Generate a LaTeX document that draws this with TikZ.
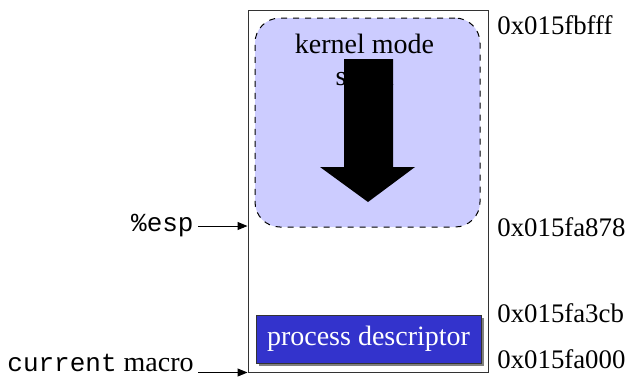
\documentclass[tikz,border=0pt]{standalone}
\usepackage{fontspec}
\setmainfont{Liberation Serif}
\setmonofont{Liberation Mono}
\usepackage{xcolor}
\usetikzlibrary{arrows.meta,positioning,calc,shadows}
\definecolor{cInk}{HTML}{000000}
\definecolor{cFrame}{HTML}{333333}
\definecolor{cStack}{HTML}{CCCCFF}
\definecolor{cDesc}{HTML}{3333CC}
\definecolor{cShade}{HTML}{808080}
\tikzset{
  framebox/.style={draw=cFrame,line width=0.5pt,minimum width=120pt,minimum height=181pt,inner sep=0pt},
  kstackbox/.style={draw=cInk,fill=cStack,dashed,line width=0.5pt,rounded corners=12.5pt,
    minimum width=112.5pt,minimum height=104.5pt,inner sep=0pt},
  descbox/.style={draw=cFrame,fill=cDesc,line width=0.5pt,minimum width=112.5pt,minimum height=24pt,
    inner sep=0pt,text=white,font=\fontsize{14}{16}\selectfont,
    drop shadow={shadow xshift=1.6pt,shadow yshift=-1.6pt,fill=cShade,opacity=1}},
  addr/.style={anchor=west,inner sep=0pt,font=\fontsize{13.4}{16}\selectfont},
  ptrlbl/.style={anchor=east,inner xsep=2pt,inner ysep=0pt,font=\fontsize{14}{16}\selectfont},
  ptr/.style={-{Triangle[length=5pt,width=4pt]},line width=0.5pt,color=cInk},
}
\begin{document}
\begin{tikzpicture}[x=0.5pt,y=-0.5pt]
  \useasboundingbox (0,0) rectangle (628,377);
  % 8 KB stack area and the kernel mode stack inside it
  \node[framebox] (stack) at (368,191) {};
  \node[kstackbox] (kstack) at (367.5,122.5) {};
  \node[align=center,inner sep=0pt,font=\fontsize{14}{16}\selectfont] (klabel) at (364.5,60) {kernel mode\\stack};
  % growth direction of the stack
  \fill[cInk] (344,59) -- (393,59) -- (393,167) -- (415,167) -- (368,202) -- (320,167) -- (344,167) -- cycle;
  \node[descbox] (desc) at (368.5,339) {process descriptor};
  % addresses
  \node[addr] (aTop) at (497,25) {0x015fbfff};
  \node[addr] (aEsp) at (497,227) {0x015fa878};
  \node[addr] (aDesc) at (497,313) {0x015fa3cb};
  \node[addr] (aBase) at (497,359) {0x015fa000};
  % pointers into the area
  \node[ptrlbl] (esp) at (198,226) {\fontsize{13}{15}\selectfont\ttfamily\%esp};
  \node[ptrlbl] (cur) at (198,363) {{\fontsize{13}{15}\selectfont\ttfamily current} macro};
  \draw[ptr] (esp.east) -- (esp.east -| stack.west);
  \draw[ptr] (cur.east |- stack.south west) -- (stack.south west);
\end{tikzpicture}
\end{document}
